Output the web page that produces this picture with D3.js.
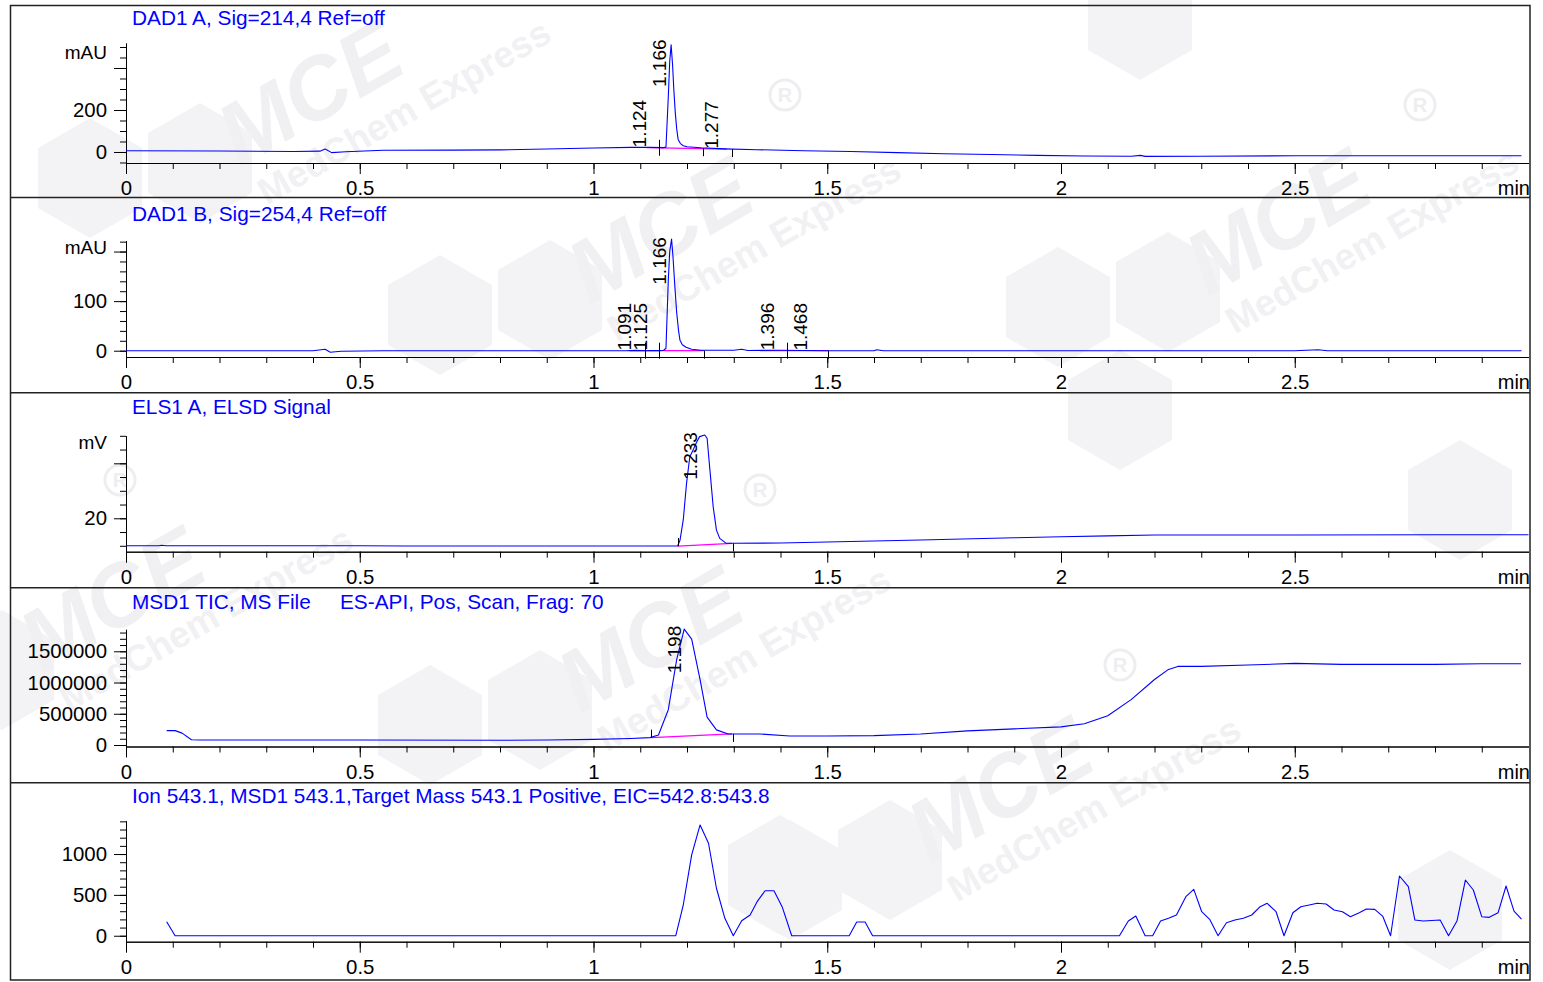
<!DOCTYPE html>
<html>
<head>
<meta charset="utf-8">
<script src="https://cdn.jsdelivr.net/npm/d3@7"></script>
<style>
body { margin: 0; background: #fff; }
svg text { font-family: "Liberation Sans", Arial, sans-serif; }
</style>
</head>
<body>
<svg id="chart" width="1543" height="982"></svg>
<script>
// ---- data (time in min, signal value) ----

// DAD1 A, 214 nm (mAU)
var dadA = [[0,6],[0.2,5],[0.36,2],[0.415,4],[0.426,14],[0.44,-3],[0.47,1],[0.55,8],[0.7,9],
	[0.8,10],[0.9,14],[1.0,19],[1.08,22],[1.12,22],[1.15,21],[1.155,23],[1.16,263],[1.163,430],
	[1.166,510],[1.169,420],[1.172,290],[1.175,185],[1.178,110],[1.181,60],[1.186,40],[1.192,30],
	[1.2,25],[1.23,20],[1.28,15],[1.35,11],[1.45,6],[1.55,2],[1.65,-3],[1.75,-8],[1.85,-12],
	[1.95,-16],[2.05,-19],[2.15,-20],[2.17,-16],[2.18,-21],[2.3,-20],[2.5,-18],[2.7,-18],
	[2.9,-18],[2.985,-18]];
var dadA_peaks = [1.124, 1.166, 1.277];
var dadA_base = [[1.114, 21, 1.285, 14]];
var dadA_marks = [{t: 1.141, v: 20, dir: 'both'}, {t: 1.235, v: 18, dir: 'down'}, {t: 1.296, v: 14, dir: 'down'}];

// DAD1 B, 254 nm (mAU)
var dadB = [[0,0],[0.4,0],[0.426,3],[0.437,-3],[0.46,-1],[0.55,0],[1.0,0],[1.07,0],[1.09,0.6],
	[1.11,0],[1.12,0.5],[1.14,0.2],[1.15,1],[1.155,5],[1.16,142],[1.163,200],[1.167,225],
	[1.17,190],[1.174,130],[1.178,76],[1.182,40],[1.185,21],[1.19,12],[1.198,7],[1.21,3],
	[1.23,1],[1.3,1],[1.317,3],[1.33,0.5],[1.4,1],[1.45,0.5],[1.5,0],[1.6,0],[1.606,2],[1.62,0],
	[2.5,0],[2.55,2],[2.57,0],[2.985,0]];
var dadB_peaks = [1.091, 1.125, 1.166, 1.396, 1.468];
var dadB_base = [[1.078, 0, 1.236, 0], [1.356, 0, 1.502, 0]];
var dadB_marks = [{t: 1.110, v: 0, dir: 'both'}, {t: 1.141, v: 0, dir: 'both'}, {t: 1.236, v: 0, dir: 'down'},
	{t: 1.413, v: 0, dir: 'both'}, {t: 1.502, v: 0, dir: 'down'}];

// ELS1 A, ELSD signal (mV)
var elsd = [[0,10],[0.07,10],[0.076,10.2],[0.085,10],[0.5,10],[0.6,9.9],[1.0,9.9],[1.18,9.9],
	[1.185,12],[1.192,19.4],[1.199,32.7],[1.206,42.4],[1.213,44.8],[1.22,47.5],[1.227,49.7],
	[1.238,50.3],[1.243,49.1],[1.249,37.6],[1.256,24.2],[1.263,15.7],[1.27,12.7],[1.284,10.9],
	[1.3,10.9],[1.4,11],[1.5,11.4],[1.7,12.1],[1.9,12.9],[2.0,13.3],[2.1,13.6],[2.2,13.9],
	[2.5,13.9],[2.8,14],[3.0,14]];
var elsd_peaks = [1.233];
var elsd_base = [[1.181, 9.9, 1.296, 10.9]];
var elsd_marks = [{t: 1.181, v: 9.9, dir: 'up'}, {t: 1.298, v: 10.9, dir: 'down'}];

// MSD1 TIC (counts)
var tic = [[0.087,230000],[0.105,230000],[0.12,190000],[0.14,85000],[0.16,80000],[0.5,80000],
	[0.8,75000],[0.9,80000],[1.0,90000],[1.08,105000],[1.121,118000],[1.139,161000],[1.16,565000],
	[1.178,1371000],[1.194,1855000],[1.21,1694000],[1.228,1048000],[1.243,446000],[1.263,242000],
	[1.288,177000],[1.356,177000],[1.42,145000],[1.5,145000],[1.6,150000],[1.7,177000],
	[1.8,226000],[1.9,258000],[2.0,290000],[2.05,339000],[2.1,468000],[2.15,726000],
	[2.2,1048000],[2.23,1210000],[2.25,1258000],[2.3,1258000],[2.4,1280000],[2.5,1306000],
	[2.6,1290000],[2.7,1290000],[2.8,1290000],[2.9,1300000],[2.984,1300000]];
var tic_peaks = [1.198];
var tic_base = [[1.124, 118000, 1.296, 177000]];
var tic_marks = [{t: 1.122, v: 118000, dir: 'up'}, {t: 1.298, v: 177000, dir: 'down'}];

// Ion 543.1 EIC (counts)
var eic = [[0.087,171],[0.105,0],[1.176,0],[1.192,376],[1.21,989],[1.228,1356],[1.246,1132],
	[1.263,581],[1.281,213],[1.299,0],[1.317,184],[1.335,254],[1.35,417],[1.367,551],[1.386,551],
	[1.404,348],[1.424,0],[1.547,0],[1.563,168],[1.581,168],[1.597,0],[2.125,0],[2.144,180],
	[2.16,241],[2.18,0],[2.196,0],[2.213,180],[2.23,215],[2.247,254],[2.267,478],[2.284,568],
	[2.301,294],[2.318,201],[2.336,0],[2.354,159],[2.372,192],[2.39,213],[2.408,254],[2.426,355],
	[2.441,397],[2.46,294],[2.477,0],[2.496,282],[2.513,355],[2.531,376],[2.548,397],[2.567,388],
	[2.584,315],[2.602,294],[2.619,233],[2.638,282],[2.653,327],[2.671,323],[2.688,241],[2.705,0],
	[2.724,731],[2.743,600],[2.757,192],[2.775,180],[2.793,186],[2.811,192],[2.829,0],[2.847,180],
	[2.865,682],[2.882,560],[2.9,233],[2.916,225],[2.935,282],[2.952,609],[2.969,302],[2.985,204]];

var xMajor = [0, 0.5, 1, 1.5, 2, 2.5];
var xMinor = d3.range(0, 30).map(function (i) { return i / 10; });

var panels = [
	{ titles: ['DAD1 A, Sig=214,4 Ref=off'], data: dadA, domain: [-52.4, 519],
		major: [0, 200, 400], labeled: [0, 200], minorStep: 50, unit: 'mAU',
		peaks: dadA_peaks, base: dadA_base, marks: dadA_marks },
	{ titles: ['DAD1 B, Sig=254,4 Ref=off'], data: dadB, domain: [-12.7, 221.9],
		major: [0, 100, 200], labeled: [0, 100], minorStep: 20, unit: 'mAU',
		peaks: dadB_peaks, base: dadB_base, marks: dadB_marks },
	{ titles: ['ELS1 A, ELSD Signal'], data: elsd, domain: [7.85, 50.04],
		major: [20, 40], labeled: [20], minorStep: 5, unit: 'mV',
		peaks: elsd_peaks, base: elsd_base, marks: elsd_marks },
	{ titles: ['MSD1 TIC, MS File', 'ES-API, Pos, Scan, Frag: 70'], data: tic, domain: [-24000, 1852000],
		major: [0, 500000, 1000000, 1500000], labeled: [0, 500000, 1000000, 1500000], minorStep: 100000, unit: '',
		peaks: tic_peaks, base: tic_base, marks: tic_marks },
	{ titles: ['Ion 543.1, MSD1 543.1,Target Mass 543.1 Positive, EIC=542.8:543.8'], data: eic, domain: [-73, 1408],
		major: [0, 500, 1000], labeled: [0, 500, 1000], minorStep: 100, unit: '',
		peaks: [], base: [], marks: [] }
];

// layout of the five stacked panels (pixels)
var layout = [
	{ top: 5, titleY: 24.5, axisTop: 43, axisY: 163, unitY: 59 },
	{ top: 197.5, titleY: 220.5, axisTop: 240.7, axisY: 357, unitY: 254 },
	{ top: 392.7, titleY: 414, axisTop: 435.7, axisY: 551.7, unitY: 449 },
	{ top: 587.7, titleY: 609, axisTop: 629.3, axisY: 746.5, unitY: 0 },
	{ top: 782.7, titleY: 803, axisTop: 820.7, axisY: 941.7, unitY: 0 }
];
var titleX = [132, 340];
var frameBottom = 980;

// faint "MCE" watermark placement (background decoration)
var wmLogos = [[310, 93], [660, 230], [1278, 222], [112, 600], [650, 640], [1000, 790]];
var wmHexes = [[1120, 410], [1460, 500], [1450, 910], [1140, 20], [790, 880]];
var wmReg = [[785, 95], [1420, 105], [760, 490], [120, 480], [1120, 665]];

var svg = d3.select('svg#chart');
var x = d3.scaleLinear().domain([0, 3]).range([126, 1528.5]);
var fontStack = '"Liberation Sans", Arial, sans-serif';

// ---- watermark ----
var wm = svg.append('g').attr('class', 'watermark');
var hexPath = d3.range(6).map(function (i) {
	var a = Math.PI / 3 * i + Math.PI / 6;
	return [60 * Math.cos(a), 60 * Math.sin(a)];
});
function hexagon(cx, cy) {
	wm.append('path')
		.attr('d', 'M' + hexPath.map(function (p) { return [cx + p[0], cy + p[1]]; }).join('L') + 'Z')
		.attr('fill', '#f3f3f5');
}
wmLogos.forEach(function (c) {
	hexagon(c[0] - 220, c[1] + 85);
	hexagon(c[0] - 110, c[1] + 70);
	var g = wm.append('g').attr('transform', 'translate(' + c[0] + ',' + c[1] + ') rotate(-30)');
	g.append('text')
		.attr('y', 30)
		.attr('text-anchor', 'middle')
		.attr('font-size', 88)
		.attr('font-weight', 'bold')
		.attr('font-style', 'italic')
		.attr('fill', '#f0f0f2')
		.text('MCE');
	g.append('text')
		.attr('x', 72)
		.attr('y', 76)
		.attr('text-anchor', 'middle')
		.attr('font-size', 37)
		.attr('font-weight', 'bold')
		.attr('fill', '#f1f1f3')
		.text('MedChem Express');
});
wmHexes.forEach(function (c) { hexagon(c[0], c[1]); });
wmReg.forEach(function (c) {
	wm.append('circle')
		.attr('cx', c[0]).attr('cy', c[1]).attr('r', 15)
		.attr('fill', 'none').attr('stroke', '#eeeef0').attr('stroke-width', 3);
	wm.append('text')
		.attr('x', c[0]).attr('y', c[1] + 7)
		.attr('text-anchor', 'middle')
		.attr('font-size', 20)
		.attr('font-weight', 'bold')
		.attr('fill', '#eeeef0')
		.text('R');
});

function valueAt(data, t) {
	var i = d3.bisector(function (d) { return d[0]; }).left(data, t);
	if (i <= 0) return data[0][1];
	if (i >= data.length) return data[data.length - 1][1];
	var a = data[i - 1], b = data[i];
	return a[1] + (b[1] - a[1]) * (t - a[0]) / (b[0] - a[0]);
}

panels.forEach(function (p, k) {
	var L = layout[k];
	var g = svg.append('g');
	var y = d3.scaleLinear().domain(p.domain).range([L.axisY, L.axisTop]);

	// titles
	p.titles.forEach(function (t, j) {
		g.append('text')
			.attr('x', titleX[j])
			.attr('y', L.titleY)
			.attr('font-size', 20.8)
			.attr('fill', '#0000ff')
			.text(t);
	});

	// x axis: minor then major ticks
	g.append('g')
		.attr('transform', 'translate(0,' + L.axisY + ')')
		.call(d3.axisBottom(x).tickValues(xMinor).tickSize(6).tickSizeOuter(0).tickFormat(''));
	g.append('g')
		.attr('transform', 'translate(0,' + L.axisY + ')')
		.call(d3.axisBottom(x).tickValues(xMajor).tickSize(11).tickSizeOuter(0).tickPadding(7)
			.tickFormat(d3.format('')))
		.attr('font-size', 20.4)
		.attr('font-family', fontStack);

	g.append('text')
		.attr('x', 1530)
		.attr('y', L.axisY + 32)
		.attr('text-anchor', 'end')
		.attr('font-size', 20)
		.text('min');

	// y axis: minor then major ticks
	var step = p.minorStep;
	var minor = d3.range(Math.ceil(p.domain[0] / step) * step, p.domain[1], step);
	g.append('g')
		.attr('transform', 'translate(126,0)')
		.call(d3.axisLeft(y).tickValues(minor).tickSize(6).tickSizeOuter(0).tickFormat(''));
	g.append('g')
		.attr('transform', 'translate(126,0)')
		.call(d3.axisLeft(y).tickValues(p.major).tickSize(12).tickSizeOuter(0).tickPadding(7)
			.tickFormat(function (d) { return p.labeled.indexOf(d) >= 0 ? d : ''; }))
		.attr('font-size', 20.4)
		.attr('font-family', fontStack);

	if (p.unit) {
		g.append('text')
			.attr('x', 107)
			.attr('y', L.unitY)
			.attr('text-anchor', 'end')
			.attr('font-size', 19)
			.text(p.unit);
	}

	g.selectAll('.tick text').attr('fill', '#000');
	g.selectAll('.tick line, .domain').attr('stroke', '#000');

	// integration baselines
	g.selectAll('line.base')
		.data(p.base)
		.enter()
		.append('line')
		.attr('class', 'base')
		.attr('x1', function (d) { return x(d[0]); })
		.attr('y1', function (d) { return y(d[1]); })
		.attr('x2', function (d) { return x(d[2]); })
		.attr('y2', function (d) { return y(d[3]); })
		.attr('stroke', '#ff00ff')
		.attr('stroke-width', 1.2);

	// signal trace
	var line = d3.line()
		.x(function (d) { return x(d[0]); })
		.y(function (d) { return y(d[1]); });
	g.append('path')
		.datum(p.data)
		.attr('d', line)
		.attr('fill', 'none')
		.attr('stroke', '#0000ff')
		.attr('stroke-width', 1.1)
		.attr('stroke-linejoin', 'round');

	// peak start / end marks
	g.selectAll('line.mark')
		.data(p.marks)
		.enter()
		.append('line')
		.attr('class', 'mark')
		.attr('x1', function (d) { return Math.round(x(d.t)) + 0.5; })
		.attr('x2', function (d) { return Math.round(x(d.t)) + 0.5; })
		.attr('y1', function (d) { return y(d.v) - (d.dir === 'down' ? 0 : 8); })
		.attr('y2', function (d) { return y(d.v) + (d.dir === 'up' ? 0 : 8); })
		.attr('stroke', '#000')
		.attr('stroke-width', 1);

	// retention time labels
	g.selectAll('text.peak')
		.data(p.peaks)
		.enter()
		.append('text')
		.attr('class', 'peak')
		.attr('font-size', 19)
		.attr('transform', function (t) {
			var yy = Math.max(y(valueAt(p.data, t)), L.axisTop + 44);
			return 'translate(' + (x(t) - 5) + ',' + yy + ') rotate(-90)';
		})
		.text(function (t) { return t.toFixed(3); });
});

// frame and panel separators
svg.append('rect')
	.attr('x', 10.5)
	.attr('y', 5.5)
	.attr('width', 1519.5)
	.attr('height', frameBottom - 5.5)
	.attr('fill', 'none')
	.attr('stroke', '#222')
	.attr('stroke-width', 1.5);

svg.selectAll('line.sep')
	.data(layout.slice(1))
	.enter()
	.append('line')
	.attr('class', 'sep')
	.attr('x1', 10.5)
	.attr('x2', 1530)
	.attr('y1', function (d) { return d.top; })
	.attr('y2', function (d) { return d.top; })
	.attr('stroke', '#222')
	.attr('stroke-width', 1.5);
</script>
</body>
</html>
